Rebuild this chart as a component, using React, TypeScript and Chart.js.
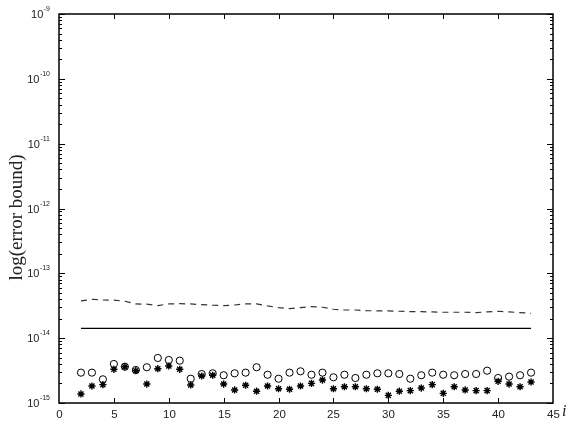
import React, { useEffect, useRef } from "react";
import { Chart, registerables } from "chart.js";

Chart.register(...registerables);

const iValues = [2,3,4,5,6,7,8,9,10,11,12,13,14,15,16,17,18,19,20,21,22,23,24,25,26,27,28,29,30,31,32,33,34,35,36,37,38,39,40,41,42,43];

const dashedBound = [3.75,3.98,3.89,3.85,3.71,3.37,3.34,3.18,3.37,3.41,3.37,3.29,3.22,3.18,3.25,3.37,3.37,3.14,2.96,2.85,2.96,3.06,3.00,2.79,2.72,2.72,2.66,2.63,2.63,2.60,2.56,2.56,2.54,2.51,2.51,2.51,2.48,2.54,2.60,2.54,2.48,2.42].map(v => v * 1e-14);

const solidBound = iValues.map(() => 1.42e-14);

const circleBound = [2.94,2.94,2.32,4.00,3.63,3.23,3.56,4.95,4.61,4.50,2.37,2.80,2.87,2.68,2.87,2.94,3.56,2.73,2.37,2.94,3.08,2.73,2.94,2.49,2.73,2.43,2.73,2.87,2.87,2.80,2.37,2.68,2.94,2.73,2.68,2.80,2.80,3.15,2.43,2.55,2.68,2.94].map(v => v * 1e-15);

const starBound = [1.38,1.83,1.92,3.31,3.63,3.15,1.96,3.38,3.72,3.31,1.90,2.61,2.68,1.96,1.59,1.88,1.52,1.83,1.66,1.63,1.83,2.01,2.26,1.66,1.78,1.78,1.66,1.63,1.31,1.52,1.55,1.70,1.92,1.41,1.78,1.59,1.55,1.55,2.16,1.96,1.78,2.11].map(v => v * 1e-15);

const xTicks = [0,5,10,15,20,25,30,35,40,45];
const yExponents = [-15,-14,-13,-12,-11,-10,-9];
const yTitle = "log(error bound)";
const xTitle = "i";

const toPoints = (ys: number[]) => iValues.map((x, k) => ({ x, y: ys[k] }));

const axesPlugin = {
  id: "customAxes",
  afterDraw(chart: any) {
    const { ctx, chartArea, scales } = chart;
    const { left, right, top, bottom } = chartArea;
    const xs = scales.x;
    const ys = scales.y;
    ctx.save();
    ctx.strokeStyle = "#000";
    ctx.lineWidth = 1.5;
    ctx.strokeRect(left, top, right - left, bottom - top);

    ctx.lineWidth = 1;
    ctx.fillStyle = "#222";
    ctx.font = "11.5px 'Liberation Sans', Arial, sans-serif";
    ctx.textAlign = "center";
    ctx.textBaseline = "top";
    for (const v of xTicks) {
      const px = Math.round(xs.getPixelForValue(v)) + 0.5;
      if (v !== xTicks[0] && v !== xTicks[xTicks.length - 1]) {
        ctx.beginPath();
        ctx.moveTo(px, bottom);
        ctx.lineTo(px, bottom - 5);
        ctx.moveTo(px, top);
        ctx.lineTo(px, top + 5);
        ctx.stroke();
      }
      ctx.fillText(String(v), px, bottom + 6);
    }

    for (const e of yExponents) {
      const py = Math.round(ys.getPixelForValue(Math.pow(10, e))) + 0.5;
      ctx.beginPath();
      ctx.moveTo(left, py);
      ctx.lineTo(left + 6, py);
      ctx.moveTo(right, py);
      ctx.lineTo(right - 6, py);
      ctx.stroke();
      if (e < yExponents[yExponents.length - 1]) {
        for (let m = 2; m <= 9; m++) {
          const pm = Math.round(ys.getPixelForValue(m * Math.pow(10, e))) + 0.5;
          ctx.beginPath();
          ctx.moveTo(left, pm);
          ctx.lineTo(left + 3, pm);
          ctx.moveTo(right, pm);
          ctx.lineTo(right - 3, pm);
          ctx.stroke();
        }
      }
      const base = "10";
      const sup = String(e);
      ctx.font = "7px 'Liberation Sans', Arial, sans-serif";
      const supW = ctx.measureText(sup).width;
      ctx.textAlign = "left";
      ctx.textBaseline = "middle";
      const endX = left - 9;
      ctx.fillText(sup, endX - supW, py - 5);
      ctx.font = "11px 'Liberation Sans', Arial, sans-serif";
      ctx.textAlign = "right";
      ctx.fillText(base, endX - supW - 0.5, py + 0.5);
    }

    ctx.save();
    ctx.translate(17, (top + bottom) / 2 + 9);
    ctx.rotate(-Math.PI / 2);
    ctx.textAlign = "center";
    ctx.textBaseline = "middle";
    ctx.fillStyle = "#222";
    ctx.font = "19px 'Liberation Serif', 'DejaVu Serif', serif";
    ctx.fillText(yTitle, 0, 0);
    ctx.restore();

    ctx.font = "italic 16px 'Liberation Serif', 'DejaVu Serif', serif";
    ctx.textAlign = "left";
    ctx.textBaseline = "middle";
    ctx.fillText(xTitle, right + 9, bottom + 9);
    ctx.restore();
  },
};

export default function App() {
  const ref = useRef<HTMLCanvasElement | null>(null);
  useEffect(() => {
    if (!ref.current) return;
    const chart = new Chart(ref.current, {
      type: "line",
      data: {
        datasets: [
          {
            label: "dashed",
            data: toPoints(dashedBound),
            borderColor: "#333",
            borderWidth: 1.2,
            borderDash: [6, 5],
            pointRadius: 0,
            fill: false,
            tension: 0,
          },
          {
            label: "solid",
            data: toPoints(solidBound),
            borderColor: "#000",
            borderWidth: 1.3,
            pointRadius: 0,
            fill: false,
          },
          {
            label: "circles",
            data: toPoints(circleBound),
            showLine: false,
            pointStyle: "circle",
            pointRadius: 3.6,
            pointBorderColor: "#000",
            pointBackgroundColor: "rgba(0,0,0,0)",
            pointBorderWidth: 1,
          },
          {
            label: "stars",
            data: toPoints(starBound),
            showLine: false,
            pointStyle: "star",
            pointRadius: 3.6,
            pointBorderColor: "#000",
            pointBackgroundColor: "#000",
            pointBorderWidth: 1.4,
          },
        ],
      },
      options: {
        responsive: false,
        animation: false,
        layout: { padding: { left: 59, right: 15, top: 14, bottom: 18 } },
        plugins: { legend: { display: false }, tooltip: { enabled: false } },
        scales: {
          x: {
            type: "linear",
            min: 0,
            max: 45,
            ticks: { display: false },
            grid: { display: false, drawTicks: false },
            border: { display: false },
          },
          y: {
            type: "logarithmic",
            min: 1e-15,
            max: 1e-9,
            ticks: { display: false },
            grid: { display: false, drawTicks: false },
            border: { display: false },
          },
        },
      },
      plugins: [axesPlugin],
    });
    return () => chart.destroy();
  }, []);
  return (
    <div style={{ position: "fixed", left: 0, top: 0, width: 568, height: 421, background: "#fff" }}>
      <canvas ref={ref} width={568} height={421} />
    </div>
  );
}
